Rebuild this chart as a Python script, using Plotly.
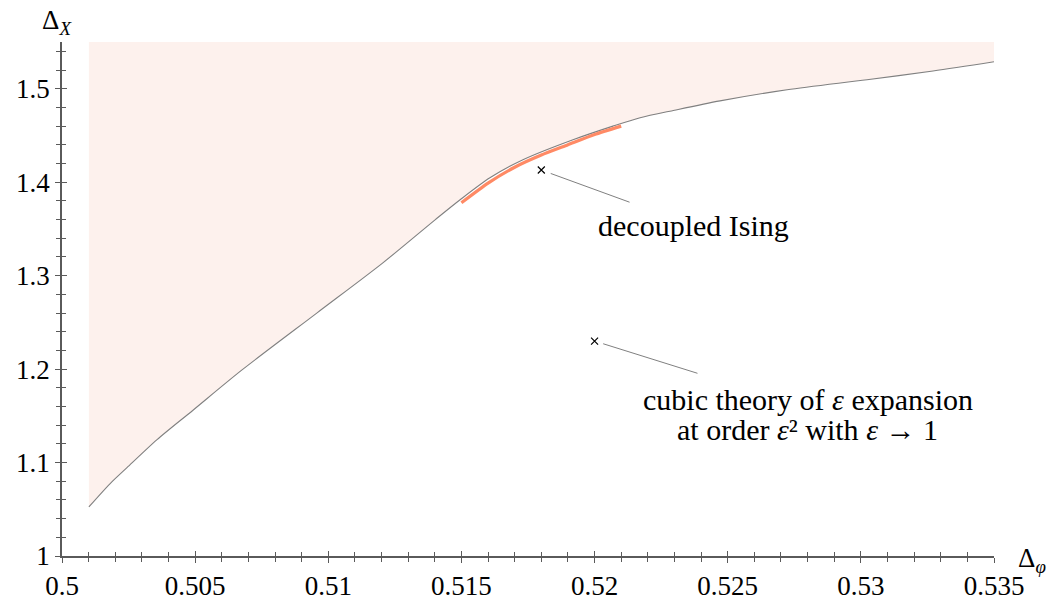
import plotly.graph_objects as go

# Boundary of the allowed region (Delta_phi, Delta_X)
bound_x = [0.50101, 0.50180, 0.50244, 0.50357, 0.50492, 0.50676, 0.50958,
           0.51205, 0.51401, 0.51495, 0.51607, 0.51731, 0.51919, 0.52069, 0.52171,
           0.52300, 0.52471, 0.52723, 0.53023, 0.53271, 0.53500]
bound_y = [1.0525, 1.0772, 1.0945, 1.1245, 1.1560, 1.1991, 1.2602,
           1.3137, 1.3597, 1.3812, 1.4047, 1.4240, 1.4454, 1.4600, 1.4690,
           1.4770, 1.4870, 1.4989, 1.5096, 1.5190, 1.5289]
y_top = 1.55

# Orange curve
orange_x = [0.5150, 0.5160, 0.5170, 0.5180, 0.5190, 0.5200, 0.5210]
orange_y = [1.378, 1.399, 1.416, 1.429, 1.440, 1.451, 1.460]

# Points
ising_pt = (0.518, 1.413)
cubic_pt = (0.520, 1.230)

x_ticks = [0.5, 0.505, 0.51, 0.515, 0.52, 0.525, 0.53, 0.535]
x_ticktext = ["0.5", "0.505", "0.51", "0.515", "0.52", "0.525", "0.53", "0.535"]
y_ticks = [1.0, 1.1, 1.2, 1.3, 1.4, 1.5]
y_ticktext = ["1", "1.1", "1.2", "1.3", "1.4", "1.5"]

FONT = "Liberation Serif, DejaVu Serif, serif"
AX = "#5a5a5a"

fig = go.Figure()
fig.add_trace(go.Scatter(
    x=bound_x + [bound_x[-1], bound_x[0]],
    y=bound_y + [y_top, y_top],
    fill="toself", fillcolor="#fdf1ed", line=dict(width=0),
    mode="lines", hoverinfo="skip", showlegend=False))
fig.add_trace(go.Scatter(x=bound_x, y=bound_y, mode="lines",
                         line=dict(color="#808080", width=1.1, shape="spline", smoothing=0.8),
                         showlegend=False))
fig.add_trace(go.Scatter(x=orange_x, y=orange_y, mode="lines",
                         line=dict(color="#ff8a65", width=3.2, shape="spline", smoothing=0.6),
                         showlegend=False))
fig.add_trace(go.Scatter(x=[ising_pt[0], cubic_pt[0]], y=[ising_pt[1], cubic_pt[1]],
                         mode="markers",
                         marker=dict(symbol="x-thin", size=7, color="black",
                                     line=dict(width=1.2, color="black")),
                         showlegend=False))
# invisible trace on overlay axes
fig.add_trace(go.Scatter(x=[0.5], y=[1.0], xaxis="x2", yaxis="y2", mode="markers",
                         marker=dict(opacity=0), showlegend=False, hoverinfo="skip"))

common = dict(showgrid=False, zeroline=False, showline=True, linecolor=AX, linewidth=1.6,
              tickcolor=AX, tickwidth=1.2, automargin=False)
fig.update_layout(
    width=1061, height=600,
    margin=dict(l=62, r=67, t=42, b=44),
    plot_bgcolor="white", paper_bgcolor="white",
    font=dict(family=FONT, size=27, color="black"),
    xaxis=dict(range=[0.5, 0.535], tickvals=x_ticks, ticktext=x_ticktext,
               ticks="outside", ticklen=5,
               minor=dict(dtick=0.001, tick0=0.5, ticks="outside", ticklen=4,
                          tickcolor=AX, tickwidth=1),
               tickfont=dict(size=27), **common),
    yaxis=dict(range=[1.0, y_top], tickvals=y_ticks, ticktext=y_ticktext,
               ticks="outside", ticklen=5,
               minor=dict(dtick=0.02, tick0=1.0, ticks="outside", ticklen=4,
                          tickcolor=AX, tickwidth=1),
               tickfont=dict(size=27), **common),
    xaxis2=dict(overlaying="x", anchor="y2", range=[0.5, 0.535], tickvals=x_ticks,
                showticklabels=False, ticks="inside", ticklen=5,
                minor=dict(dtick=0.001, tick0=0.5, ticks="inside", ticklen=4,
                           tickcolor=AX, tickwidth=1),
                **common),
    yaxis2=dict(overlaying="y", anchor="x2", range=[1.0, y_top], tickvals=y_ticks,
                showticklabels=False, ticks="inside", ticklen=5,
                minor=dict(dtick=0.02, tick0=1.0, ticks="inside", ticklen=4,
                           tickcolor=AX, tickwidth=1),
                **common),
)

# leader lines
fig.add_annotation(x=ising_pt[0], y=ising_pt[1], ax=0.52137, ay=1.378,
                   axref="x", ayref="y", text="", showarrow=True, arrowhead=0,
                   arrowwidth=1, arrowcolor="#808080", standoff=10)
fig.add_annotation(x=cubic_pt[0], y=cubic_pt[1], ax=0.52392, ay=1.195,
                   axref="x", ayref="y", text="", showarrow=True, arrowhead=0,
                   arrowwidth=1, arrowcolor="#808080", standoff=9)

fig.add_annotation(x=0.5237, y=1.3533, text="decoupled Ising", showarrow=False,
                   font=dict(size=30), xanchor="center", yanchor="middle")
fig.add_annotation(x=0.52801, y=1.168, text="cubic theory of <i>ε</i> expansion",
                   showarrow=False, font=dict(size=30), xanchor="center", yanchor="middle")
fig.add_annotation(x=0.52801, y=1.135, text="at order <i>ε</i>² with <i>ε</i> → 1",
                   showarrow=False, font=dict(size=30), xanchor="center", yanchor="middle")

# axis titles
fig.add_annotation(xref="paper", yref="paper", x=-0.024, y=1.075,
                   text="Δ<sub><i>X</i></sub>", showarrow=False,
                   xanchor="left", yanchor="top", font=dict(size=27))
fig.add_annotation(xref="paper", yref="paper", x=1.024, y=0.03,
                   text="Δ<sub><i>φ</i></sub>", showarrow=False,
                   xanchor="left", yanchor="top", font=dict(size=27))

fig.write_html("out.html", config={"displayModeBar": False},
               post_script="document.body.style.margin='0';document.body.style.overflow='hidden';")
